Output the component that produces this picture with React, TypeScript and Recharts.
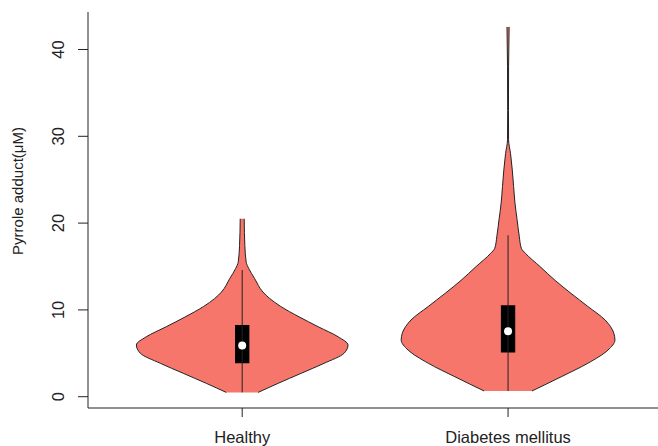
import {
  Area,
  ComposedChart,
  ReferenceArea,
  ReferenceDot,
  ReferenceLine,
  XAxis,
  YAxis,
} from "recharts";

const groups = ["Healthy", "Diabetes mellitus"];

// density outline of each violin: y level (µM) and half width (in x-axis units)
const healthyLevels = [0.5, 1.54, 2.7, 3.85, 5.0, 5.96, 6.9, 8.06, 9.2, 10.4, 11.3, 12.06, 13.6, 14.75, 15.5, 17.4, 20.5];
const healthyHalfWidths = [0.06, 0.135, 0.222, 0.308, 0.383, 0.398, 0.361, 0.286, 0.214, 0.145, 0.104, 0.078, 0.047, 0.025, 0.015, 0.01, 0.0075];

const diabetesLevels = [0.66, 2.3, 3.85, 5.38, 6.53, 7.3, 8.84, 10.4, 11.9, 13.4, 15.0, 16.5, 17.1, 18.5, 20.4, 22.3, 24.2, 26.1, 28.0, 29.6, 33, 38, 42.6];
const diabetesHalfWidths = [0.09, 0.2, 0.3, 0.376, 0.402, 0.398, 0.365, 0.3, 0.237, 0.177, 0.12, 0.066, 0.05, 0.042, 0.034, 0.026, 0.021, 0.016, 0.0094, 0.002, 0.0015, 0.002, 0.004];

// boxplot summary per group
const medians = [5.9, 7.55];
const lowerQuartiles = [3.85, 5.1];
const upperQuartiles = [8.25, 10.55];
const whiskerLows = [0.5, 0.66];
const whiskerHighs = [14.6, 18.6];

const yTicks = [0, 10, 20, 30, 40];

const FILL = "#F7766B";
const INK = "#222";
const FONT = "'Liberation Sans', Arial, Helvetica, sans-serif";
const BOX_HALF = 0.027;
const X_DOMAIN: [number, number] = [0.42, 2.564];
const Y_DOMAIN: [number, number] = [-1.3, 44.32];

// each violin gets its own rows: y level -> [left edge, right edge]
const toRows = (levels: number[], widths: number[], center: number) =>
  levels.map((y, i) => ({ y, edge: [center - widths[i], center + widths[i]] }));

const healthyRows = toRows(healthyLevels, healthyHalfWidths, 1);
const diabetesRows = toRows(diabetesLevels, diabetesHalfWidths, 2);

function YTick({ x, y, payload }: any) {
  return (
    <text
      x={0}
      y={0}
      transform={`translate(${x - 18},${y}) rotate(-90)`}
      textAnchor="middle"
      dy="0.35em"
      fontSize={16.5}
      fontFamily={FONT}
      fill={INK}
    >
      {payload.value}
    </text>
  );
}

function YTitle({ viewBox }: any) {
  const cx = viewBox.x + 18;
  const cy = viewBox.y + viewBox.height / 2 - 19;
  return (
    <text
      x={0}
      y={0}
      transform={`translate(${cx},${cy}) rotate(-90)`}
      textAnchor="middle"
      dy="0.35em"
      fontSize={15}
      fontFamily={FONT}
      fill={INK}
    >
      Pyrrole adduct(μM)
    </text>
  );
}

export default function App() {
  return (
    <div style={{ position: "absolute", left: 0, top: 0, width: 658, height: 446, background: "#fff", overflow: "hidden" }}>
      <ComposedChart
        width={658}
        height={446}
        layout="vertical"
        margin={{ top: 12, right: 0, bottom: 0, left: 0 }}
      >
        <XAxis
          xAxisId="top"
          orientation="top"
          type="number"
          domain={X_DOMAIN}
          allowDataOverflow
          height={0}
          tick={false}
          tickLine={false}
          axisLine={{ stroke: INK, strokeWidth: 1 }}
        />
        <XAxis
          type="number"
          domain={X_DOMAIN}
          allowDataOverflow
          ticks={[1, 2]}
          tickFormatter={(v) => groups[v - 1] ?? ""}
          height={38}
          tickSize={9}
          tickMargin={14}
          interval={0}
          tick={{ fontSize: 16.5, fontFamily: FONT, fill: INK }}
          tickLine={{ stroke: INK }}
          axisLine={{ stroke: INK, strokeWidth: 1 }}
        />
        <YAxis
          type="number"
          dataKey="y"
          domain={Y_DOMAIN}
          allowDataOverflow
          reversed
          ticks={yTicks}
          interval={0}
          width={88}
          tickSize={10}
          tickMargin={2}
          tick={<YTick />}
          tickLine={{ stroke: INK }}
          axisLine={{ stroke: INK, strokeWidth: 1 }}
          label={<YTitle />}
        />
        <Area
          data={healthyRows}
          dataKey="edge"
          type="monotone"
          stroke={INK}
          strokeWidth={1}
          fill={FILL}
          fillOpacity={1}
          dot={false}
          activeDot={false}
          isAnimationActive={false}
        />
        <Area
          data={diabetesRows}
          dataKey="edge"
          type="monotone"
          stroke={INK}
          strokeWidth={1}
          fill={FILL}
          fillOpacity={1}
          dot={false}
          activeDot={false}
          isAnimationActive={false}
        />
        {groups.map((g, i) => (
          <ReferenceLine
            key={`w-${g}`}
            segment={[
              { x: i + 1, y: whiskerLows[i] },
              { x: i + 1, y: whiskerHighs[i] },
            ]}
            stroke={INK}
            strokeWidth={1}
          />
        ))}
        {groups.map((g, i) => (
          <ReferenceArea
            key={`b-${g}`}
            x1={i + 1 - BOX_HALF}
            x2={i + 1 + BOX_HALF}
            y1={lowerQuartiles[i]}
            y2={upperQuartiles[i]}
            fill="#000"
            fillOpacity={1}
            stroke="none"
          />
        ))}
        {groups.map((g, i) => (
          <ReferenceDot
            key={`m-${g}`}
            x={i + 1}
            y={medians[i]}
            r={4}
            fill="#fff"
            stroke="none"
          />
        ))}
      </ComposedChart>
    </div>
  );
}
